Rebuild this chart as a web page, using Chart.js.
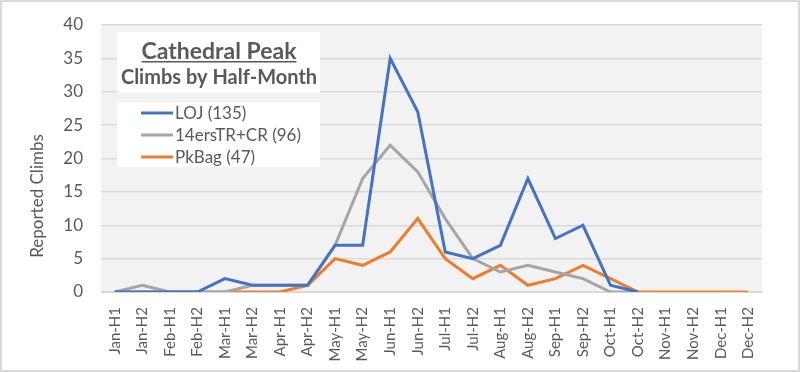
<!DOCTYPE html>
<html>
<head>
<meta charset="utf-8">
<script src="https://cdn.jsdelivr.net/npm/chart.js@4.4.1/dist/chart.umd.min.js"></script>
<style>
  html, body { margin: 0; padding: 0; background: #fff; }
</style>
</head>
<body>
<canvas id="climbsChart" width="800" height="372"></canvas>
<script>
const categories = ['Jan-H1', 'Jan-H2', 'Feb-H1', 'Feb-H2', 'Mar-H1', 'Mar-H2', 'Apr-H1', 'Apr-H2',
    'May-H1', 'May-H2', 'Jun-H1', 'Jun-H2', 'Jul-H1', 'Jul-H2', 'Aug-H1', 'Aug-H2',
    'Sep-H1', 'Sep-H2', 'Oct-H1', 'Oct-H2', 'Nov-H1', 'Nov-H2', 'Dec-H1', 'Dec-H2'];

const lojClimbs = [0, 0, 0, 0, 2, 1, 1, 1, 7, 7, 35, 27, 6, 5, 7, 17, 8, 10, 1, 0, null, null, null, null];
const fourteenersClimbs = [0, 1, 0, 0, 0, 1, 1, 1, 7, 17, 22, 18, 11, 5, 3, 4, 3, 2, 0, 0, null, null, null, null];
const pkBagClimbs = [0, 0, 0, 0, 0, 0, 0, 1, 5, 4, 6, 11, 5, 2, 4, 1, 2, 4, 2, 0, 0, 0, 0, 0];

const seriesNames = ['LOJ (135)', '14ersTR+CR (96)', 'PkBag (47)'];
const yTicks = [0, 5, 10, 15, 20, 25, 30, 35, 40];

const textColor = '#595959';
const fontFamily = 'Lato, "Open Sans", sans-serif';

// plot background, outer border, axis title and the boxed title + legend inside the plot
const decorations = {
    id: 'decorations',
    beforeDraw(chart) {
        const { ctx, chartArea } = chart;
        ctx.save();
        ctx.fillStyle = '#ffffff';
        ctx.fillRect(0, 0, chart.width, chart.height);
        ctx.fillStyle = '#f2f2f2';
        ctx.fillRect(chartArea.left, chartArea.top, chartArea.right - chartArea.left, chartArea.bottom - chartArea.top);
        ctx.strokeStyle = '#d9d9d9';
        ctx.lineWidth = 2;
        ctx.strokeRect(1, 1, chart.width - 2, chart.height - 2);

        // y axis title sits a bit low, like the original
        ctx.translate(38, 196);
        ctx.rotate(-Math.PI / 2);
        ctx.fillStyle = textColor;
        ctx.font = '17px ' + fontFamily;
        ctx.textAlign = 'center';
        ctx.textBaseline = 'middle';
        ctx.fillText('Reported Climbs', 0, 0);
        ctx.restore();
    },
    afterDatasetsDraw(chart) {
        const { ctx } = chart;
        ctx.save();

        // title box
        ctx.fillStyle = '#ffffff';
        ctx.fillRect(117, 32, 203, 61);
        ctx.fillStyle = textColor;
        ctx.textAlign = 'center';
        ctx.textBaseline = 'alphabetic';
        ctx.font = 'bold 23px ' + fontFamily;
        const title = 'Cathedral Peak';
        ctx.fillText(title, 219, 59);
        const w = ctx.measureText(title).width;
        ctx.fillRect(219 - w / 2, 61, w, 1.5);
        ctx.font = 'bold 20px ' + fontFamily;
        ctx.fillText('Climbs by Half-Month', 219, 84);

        // legend box
        ctx.fillStyle = '#ffffff';
        ctx.fillRect(117, 102, 203, 65);
        ctx.font = '17px ' + fontFamily;
        ctx.textAlign = 'left';
        ctx.textBaseline = 'middle';
        chart.data.datasets.forEach((ds, i) => {
            const y = 113 + i * 22;
            ctx.strokeStyle = ds.borderColor;
            ctx.lineWidth = 3;
            ctx.beginPath();
            ctx.moveTo(141, y);
            ctx.lineTo(173, y);
            ctx.stroke();
            ctx.fillStyle = textColor;
            ctx.fillText(ds.label, 175, y + 1);
        });
        ctx.restore();
    }
};

const ctx = document.getElementById('climbsChart').getContext('2d');

new Chart(ctx, {
    type: 'line',
    data: {
        labels: categories,
        datasets: [
            { label: seriesNames[0], data: lojClimbs, borderColor: '#4472c4' },
            { label: seriesNames[1], data: fourteenersClimbs, borderColor: '#a5a5a5' },
            { label: seriesNames[2], data: pkBagClimbs, borderColor: '#ed7d31' }
        ].map(ds => ({ ...ds, borderWidth: 3, pointRadius: 0, tension: 0, fill: false }))
    },
    options: {
        responsive: false,
        animation: false,
        layout: { padding: { top: 25, right: 38, bottom: 0, left: 0 } },
        plugins: {
            legend: { display: false },
            tooltip: { enabled: false }
        },
        scales: {
            x: {
                offset: true,
                grid: { display: false },
                border: { display: true, color: '#d9d9d9', width: 1 },
                ticks: {
                    color: textColor,
                    font: { family: fontFamily, size: 15 },
                    maxRotation: 90,
                    minRotation: 90,
                    autoSkip: false,
                    padding: 7
                },
                afterFit: (scale) => { scale.height = 80; }
            },
            y: {
                min: 0,
                max: 40,
                afterBuildTicks: (scale) => { scale.ticks = yTicks.map(v => ({ value: v })); },
                grid: { color: '#d9d9d9', lineWidth: 1.5, drawTicks: false },
                border: { display: false },
                ticks: {
                    color: textColor,
                    font: { family: fontFamily, size: 17 },
                    padding: 18
                },
                afterFit: (scale) => {
                    scale.width = 101;
                    scale.paddingTop = 0;
                    scale.paddingBottom = 0;
                }
            }
        }
    },
    plugins: [decorations]
});
</script>
</body>
</html>
